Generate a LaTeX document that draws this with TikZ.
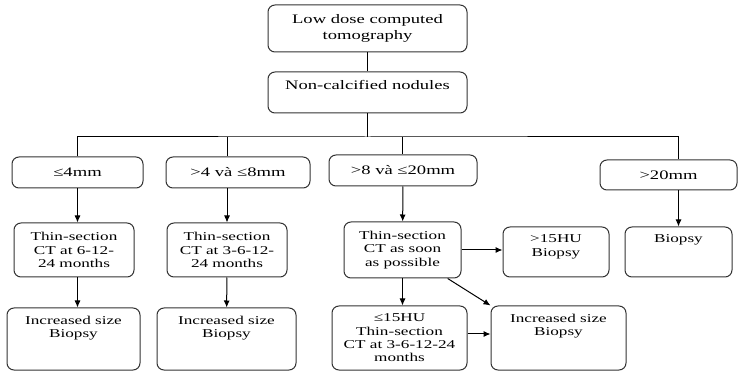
\documentclass[tikz,border=0pt]{standalone}
\usepackage{fontspec}
\setmainfont[FakeStretch=1.43]{Liberation Serif}
\usetikzlibrary{positioning,calc,arrows.meta}
\newcommand{\bigtxt}{\fontsize{13}{15.3}\selectfont}
\newcommand{\smalltxt}{\fontsize{12}{13.3}\selectfont}
\tikzset{
  box/.style={draw=black!80, rounded corners=7pt, align=center, inner sep=2pt, font=\bigtxt},
  sbox/.style={box, font=\smalltxt},
  toptext/.style={label={[anchor=north, inner sep=0pt, yshift=-8pt, align=center]north:#1}}
}

\begin{document}
\begin{tikzpicture}[x=1pt, y=-1pt, >={Latex[length=7pt,width=6pt]}, line width=1pt, font=\smalltxt]
    \useasboundingbox (0,0) rectangle (739,371);

    % screening
    \node[box, minimum width=199, minimum height=47] (ldct) at (367.5,28.5) {Low dose computed\\tomography};
    \node[box, minimum width=199, minimum height=41, toptext={\bigtxt Non-calcified nodules}] (ncn) at (367.5,92.5) {};

    % nodule size
    \node[box, minimum width=131, minimum height=31] (s1) at (77.5,172.5) {≤4mm};
    \node[box, minimum width=144, minimum height=31] (s2) at (238,172.5) {>4 và ≤8mm};
    \node[box, minimum width=148, minimum height=31] (s3) at (403,170.5) {>8 và ≤20mm};
    \node[box, minimum width=137, minimum height=30] (s4) at (668.5,175) {>20mm};

    % follow-up
    \node[sbox, minimum width=120, minimum height=54] (t1) at (74,250) {Thin-section\\CT at 6-12-\\24 months};
    \node[sbox, minimum width=120, minimum height=54] (t2) at (227,250) {Thin-section\\CT at 3-6-12-\\24 months};
    \node[sbox, minimum width=117, minimum height=56] (t3) at (402.5,250) {Thin-section\\CT as soon\\as possible};
    \node[sbox, minimum width=106, minimum height=50, toptext={>15HU\\Biopsy}] (hu1) at (556,252) {};
    \node[sbox, minimum width=107, minimum height=50, toptext={Biopsy}] (bx) at (678.5,252) {};

    \node[sbox, minimum width=133, minimum height=62, toptext={Increased size\\Biopsy}] (i1) at (73.5,339) {};
    \node[sbox, minimum width=139, minimum height=62, toptext={Increased size\\Biopsy}] (i2) at (226.5,339) {};
    \node[sbox, minimum width=135, minimum height=64] (hu2) at (399.5,338) {≤15HU\\Thin-section\\CT at 3-6-12-24\\months};
    \node[sbox, minimum width=135, minimum height=64, toptext={Increased size\\Biopsy}] (i3) at (558.5,338) {};

    % tree lines
    \coordinate (bus) at (367.5,137);
    \draw (ldct) -- (ncn);
    \draw (ncn) -- (bus);
    \draw (s1.north) |- (bus) -| (bx |- s4.north);
    \foreach \a/\b in {t2/s2, t3/s3}
        \draw (bus -| \a) -- (\a |- \b.north);

    % arrows
    \draw[->] (s1) -- (s1 |- t1.north);
    \draw[->] (t2 |- s2.south) -- (t2);
    \draw[->] (s3) -- (t3);
    \draw[->] (bx |- s4.south) -- (bx);
    \draw[->] (s1 |- t1.south) -- (s1 |- i1.north);
    \draw[->] (t2) -- (i2);
    \draw[->] (t3) -- (t3 |- hu2.north);
    \draw[->] (t3) -- (t3 -| hu1.west);
    \draw[->] (t3) -- (i3.north west);
    \draw[->] ([yshift=4pt]hu2.east) -- ([yshift=4pt]i3.west);
\end{tikzpicture}
\end{document}
